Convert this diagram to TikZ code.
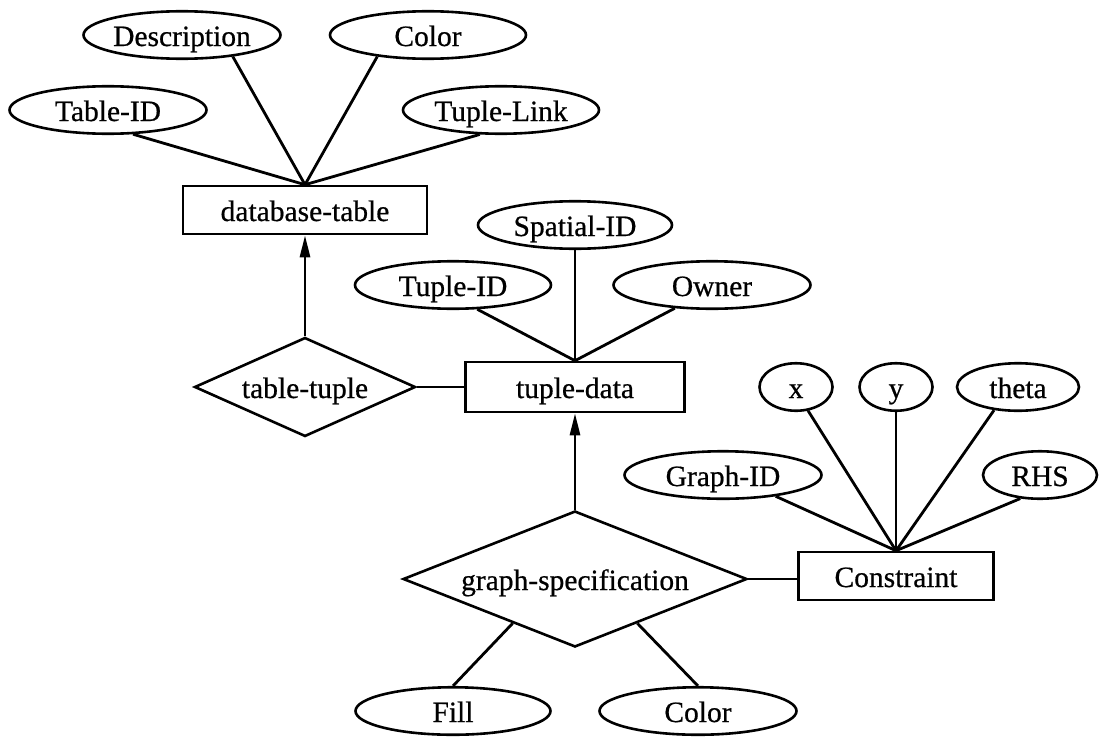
\documentclass[tikz,border=0pt]{standalone}
\usepackage{fontspec}
\setmainfont{Liberation Serif}[FakeBold=0.6]
\usetikzlibrary{shapes.geometric,arrows.meta,calc}
\begin{document}
\begin{tikzpicture}[x=1pt,y=-1pt,
  every node/.style={font=\fontsize{29.5}{34}\selectfont, text height=22pt, text depth=0pt},
  attr/.style={draw, ellipse, line width=2.6pt, inner sep=0pt, minimum height=47.5pt},
  entity/.style={draw, rectangle, line width=2.6pt, inner sep=0pt},
  rel/.style={draw, diamond, line width=2.6pt, inner sep=0pt},
  link/.style={line width=2.8pt},
  isa/.style={line width=2.8pt, -{Triangle[length=22pt,width=10pt]}}]
\useasboundingbox (0,0) rectangle (1099,736);

% database-table and its attributes
\node[attr, minimum width=197pt] (desc)  at (182,35)  {Description};
\node[attr, minimum width=196pt] (colA)  at (428,35)  {Color};
\node[attr, minimum width=197pt] (tid)   at (108,110) {Table-ID};
\node[attr, minimum width=196pt] (tlink) at (501,110) {Tuple-Link};
\node[entity, minimum width=244pt, minimum height=48pt] (dbt) at (305,210) {database-table};

% tuple-data and its attributes
\node[attr, minimum width=194pt] (sid)   at (575,225) {Spatial-ID};
\node[attr, minimum width=196pt] (tupid) at (453,285) {Tuple-ID};
\node[attr, minimum width=197pt] (owner) at (712,285) {Owner};
\node[rel, aspect=2.2, minimum width=221pt, minimum height=99pt] (tt) at (305,387) {table-tuple};
\node[entity, minimum width=219pt, minimum height=50pt] (td) at (575,387) {tuple-data};

% Constraint and its attributes
\node[attr, minimum width=73pt]  (ax)  at (796,387)  {x};
\node[attr, minimum width=73pt]  (ay)  at (896,387)  {y};
\node[attr, minimum width=122pt] (ath) at (1018,387) {theta};
\node[attr, minimum width=197pt] (gid) at (723,475)  {Graph-ID};
\node[attr, minimum width=114pt] (rhs) at (1040,475) {RHS};
\node[entity, minimum width=195pt, minimum height=48pt] (con) at (896,576) {Constraint};

% graph-specification and its attributes
\node[rel, aspect=2.5, minimum width=344pt, minimum height=136pt] (gs) at (575,579) {graph-specification};
\node[attr, minimum width=195pt] (fill) at (453,711) {Fill};
\node[attr, minimum width=197pt] (colB) at (698,711) {Color};

% connectors
\draw[link] (tid.-44)    -- (dbt.north);
\draw[link] (desc.-23)   -- (dbt.north);
\draw[link] (colA.203)   -- (dbt.north);
\draw[link] (tlink.229)  -- (dbt.north);
\draw[isa]  (tt.north)   -- (dbt.south);
\draw[link] (tt.east)    -- (td.west);
\draw[link] (tupid.-45)  -- (td.north);
\draw[link] (sid.south)  -- (td.north);
\draw[link] (owner.212)  -- (td.north);
\draw[isa]  (gs.north)   -- (td.south);
\draw[link] (gs.east)    -- (gs.east -| con.west);
\draw[link] (ax.-63)     -- (con.north);
\draw[link] (ay.south)   -- (con.north);
\draw[link] (ath.-136)   -- (con.north);
\draw[link] (gid.-22)    -- (con.north);
\draw[link] (rhs.-130)   -- (con.north);
\draw[link] ($(gs.west)!0.64!(gs.south)$) -- (fill.north);
\draw[link] ($(gs.south)!0.36!(gs.east)$) -- (colB.north);
\end{tikzpicture}
\end{document}
